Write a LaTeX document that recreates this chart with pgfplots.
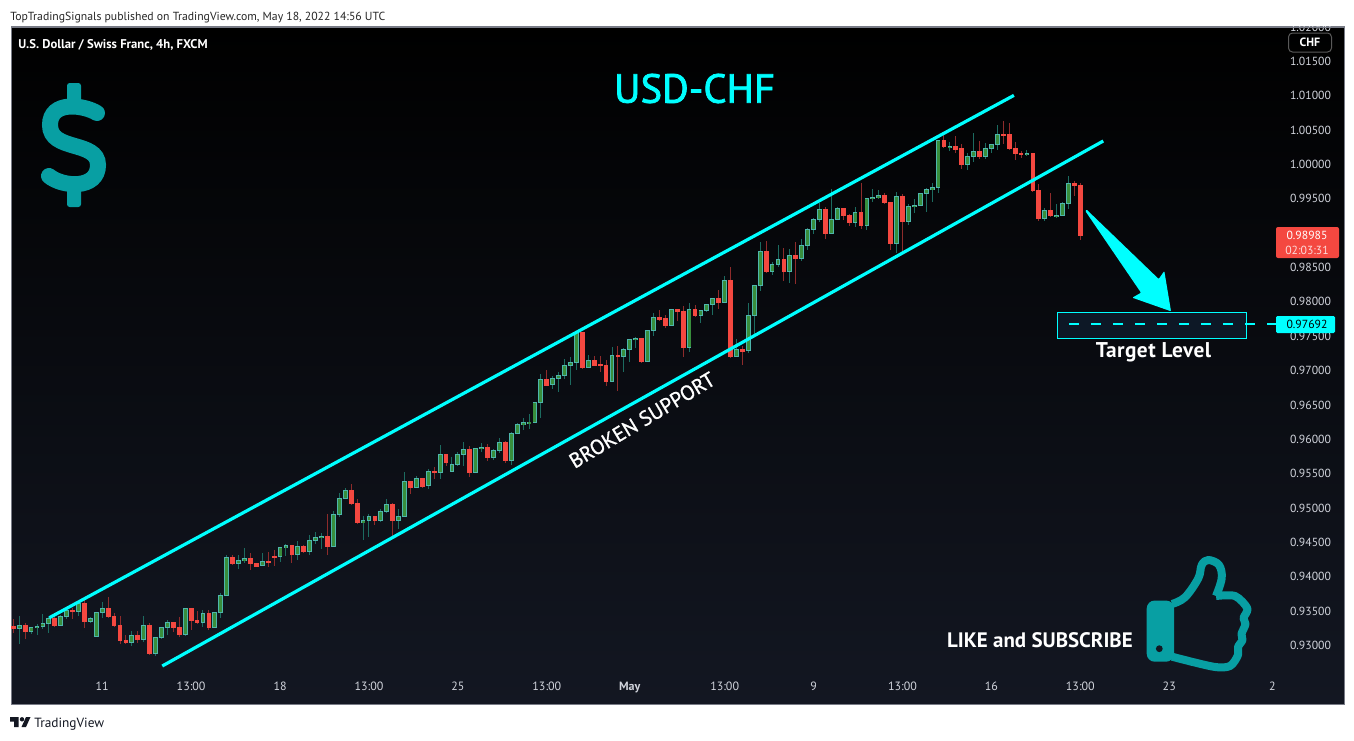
\documentclass[border=0pt]{standalone}
\usepackage{fontspec}
\setmainfont{PT Sans}
\usepackage{pgfplots}
\usepackage{pgfplotstable}
\pgfplotsset{compat=1.18}
\definecolor{tvbg}{HTML}{131722}
\definecolor{tvline}{HTML}{787B86}
\definecolor{gborder}{HTML}{4DB6AC}
\definecolor{gfill}{HTML}{388E3C}
\definecolor{gwick}{HTML}{1C6B60}
\definecolor{rfill}{HTML}{F44840}
\definecolor{rwick}{HTML}{8E2B2B}
\definecolor{tvcyan}{HTML}{00FFFF}
\definecolor{tick}{HTML}{D1D4DC}
\definecolor{iconteal}{HTML}{089FA3}
\definecolor{tgtbg}{HTML}{0D1826}
\pgfplotstableread{
i o h l c
1 0.93245 0.93429 0.93022 0.93299
3 0.93202 0.93274 0.93173 0.93265
4 0.93255 0.93308 0.93153 0.93284
5 0.93274 0.93459 0.93240 0.93323
6 0.93318 0.93420 0.93182 0.93395
8 0.93289 0.93444 0.93284 0.93429
9 0.93420 0.93541 0.93391 0.93517
11 0.93492 0.93652 0.93434 0.93618
13 0.93347 0.93420 0.93323 0.93395
14 0.93129 0.93492 0.93124 0.93483
15 0.93478 0.93638 0.93405 0.93541
20 0.93042 0.93211 0.92998 0.93148
22 0.93085 0.93429 0.93056 0.93294
24 0.92882 0.93129 0.92853 0.93119
25 0.93114 0.93274 0.93100 0.93265
26 0.93265 0.93371 0.93153 0.93337
29 0.93158 0.93546 0.93143 0.93541
32 0.93332 0.93517 0.93274 0.93468
34 0.93260 0.93492 0.93255 0.93483
35 0.93478 0.93769 0.93400 0.93730
36 0.93730 0.94316 0.93725 0.94282
38 0.94190 0.94316 0.94118 0.94239
39 0.94234 0.94413 0.94200 0.94268
42 0.94161 0.94341 0.94152 0.94224
45 0.94292 0.94438 0.94219 0.94423
46 0.94423 0.94476 0.94302 0.94457
48 0.94321 0.94520 0.94244 0.94442
50 0.94365 0.94607 0.94316 0.94529
51 0.94525 0.94651 0.94481 0.94573
52 0.94568 0.94631 0.94403 0.94592
54 0.94437 0.94956 0.94432 0.94907
55 0.94903 0.95218 0.94874 0.95145
56 0.95135 0.95286 0.95130 0.95256
59 0.94786 0.94883 0.94534 0.94820
60 0.94815 0.94907 0.94578 0.94878
62 0.94815 0.94985 0.94796 0.94951
63 0.94946 0.95130 0.94922 0.95053
65 0.94815 0.94985 0.94694 0.94878
66 0.94874 0.95523 0.94869 0.95387
68 0.95295 0.95460 0.95286 0.95431
70 0.95324 0.95567 0.95276 0.95533
72 0.95513 0.95916 0.95421 0.95780
74 0.95528 0.95741 0.95523 0.95635
75 0.95630 0.95814 0.95605 0.95780
76 0.95775 0.95959 0.95610 0.95853
78 0.95513 0.95877 0.95508 0.95867
79 0.95862 0.95950 0.95814 0.95887
81 0.95731 0.95857 0.95702 0.95838
82 0.95833 0.96017 0.95804 0.95954
84 0.95688 0.96114 0.95625 0.96085
85 0.96080 0.96245 0.96076 0.96216
86 0.96211 0.96308 0.96134 0.96245
87 0.96240 0.96376 0.96148 0.96250
88 0.96240 0.96546 0.96236 0.96536
89 0.96532 0.96949 0.96309 0.96871
91 0.96794 0.96920 0.96731 0.96886
92 0.96881 0.96978 0.96692 0.96929
93 0.96924 0.97167 0.96881 0.97075
94 0.97070 0.97191 0.96789 0.97118
95 0.97114 0.97564 0.97007 0.97559
97 0.97041 0.97225 0.97036 0.97147
101 0.96837 0.97341 0.96832 0.97220
103 0.97201 0.97322 0.96983 0.97307
104 0.97307 0.97467 0.97123 0.97453
105 0.97448 0.97496 0.97327 0.97467
107 0.97128 0.97598 0.97123 0.97584
108 0.97579 0.97836 0.97501 0.97773
111 0.97652 0.97899 0.97647 0.97889
114 0.97332 0.97981 0.97269 0.97889
116 0.97797 0.97889 0.97690 0.97875
117 0.97870 0.97971 0.97855 0.97962
118 0.97957 0.98059 0.97807 0.98049
120 0.97986 0.98379 0.97981 0.98311
122 0.97201 0.97467 0.97191 0.97307
124 0.97288 0.97986 0.97254 0.97802
125 0.97797 0.98253 0.97516 0.98238
126 0.98233 0.98868 0.98160 0.98732
128 0.98437 0.98587 0.98388 0.98543
129 0.98538 0.98824 0.98509 0.98616
131 0.98437 0.98776 0.98272 0.98674
133 0.98626 0.98912 0.98597 0.98820
134 0.98815 0.99072 0.98752 0.99052
135 0.99047 0.99227 0.98984 0.99198
136 0.99193 0.99445 0.99164 0.99343
138 0.98989 0.99639 0.98984 0.99198
139 0.99193 0.99387 0.99188 0.99358
142 0.99149 0.99377 0.99086 0.99299
144 0.99106 0.99518 0.99043 0.99503
145 0.99498 0.99639 0.99455 0.99518
146 0.99513 0.99624 0.99503 0.99547
149 0.98844 0.99605 0.98708 0.99532
151 0.99164 0.99430 0.99120 0.99387
152 0.99382 0.99503 0.99295 0.99401
153 0.99396 0.99586 0.99392 0.99576
154 0.99571 0.99663 0.99309 0.99634
155 0.99629 0.99736 0.99455 0.99663
156 0.99658 1.00351 0.99586 1.00347
158 1.00250 1.00327 1.00196 1.00264
161 0.99993 1.00162 0.99915 1.00114
162 1.00109 1.00453 1.00036 1.00187
164 1.00109 1.00313 1.00080 1.00230
165 1.00225 1.00303 1.00162 1.00288
166 1.00283 1.00569 1.00206 1.00434
171 1.00138 1.00216 1.00128 1.00157
174 0.99207 0.99372 0.99174 0.99329
176 0.99251 0.99421 0.99217 0.99261
177 0.99251 0.99455 0.99246 0.99430
178 0.99426 0.99828 0.99348 0.99721
}\greentab
\pgfplotstableread{
i o h l c
0 0.93284 0.93386 0.93187 0.93240
2 0.93299 0.93323 0.93095 0.93202
7 0.93400 0.93410 0.93284 0.93289
10 0.93517 0.93541 0.93391 0.93488
12 0.93618 0.93711 0.93260 0.93347
16 0.93546 0.93706 0.93400 0.93415
17 0.93429 0.93468 0.93274 0.93289
18 0.93299 0.93429 0.93022 0.93071
19 0.93080 0.93153 0.93037 0.93042
21 0.93153 0.93211 0.93042 0.93085
23 0.93299 0.93323 0.92877 0.92882
27 0.93342 0.93347 0.93197 0.93260
28 0.93265 0.93420 0.93129 0.93153
30 0.93541 0.93546 0.93226 0.93362
31 0.93371 0.93507 0.93323 0.93328
33 0.93468 0.93517 0.93231 0.93260
37 0.94282 0.94316 0.94186 0.94190
40 0.94268 0.94341 0.94103 0.94190
41 0.94195 0.94205 0.94142 0.94156
43 0.94224 0.94360 0.94142 0.94205
44 0.94302 0.94389 0.94156 0.94287
47 0.94457 0.94462 0.94200 0.94321
49 0.94447 0.94457 0.94355 0.94360
53 0.94592 0.94912 0.94316 0.94437
57 0.95256 0.95349 0.95043 0.95063
58 0.95072 0.95130 0.94781 0.94786
61 0.94883 0.94888 0.94752 0.94815
64 0.95058 0.95072 0.94558 0.94815
67 0.95387 0.95392 0.95203 0.95295
69 0.95431 0.95436 0.95295 0.95319
71 0.95538 0.95596 0.95421 0.95513
73 0.95780 0.95794 0.95610 0.95659
77 0.95853 0.95901 0.95450 0.95513
80 0.95882 0.95930 0.95683 0.95731
83 0.95954 0.95969 0.95654 0.95688
90 0.96871 0.97007 0.96779 0.96789
96 0.97559 0.97564 0.97036 0.97041
98 0.97152 0.97210 0.97070 0.97080
99 0.97094 0.97210 0.96978 0.97065
100 0.97080 0.97152 0.96779 0.96837
102 0.97225 0.97356 0.96706 0.97201
106 0.97472 0.97477 0.97123 0.97128
109 0.97773 0.97879 0.97715 0.97748
110 0.97758 0.97807 0.97622 0.97652
112 0.97889 0.97899 0.97719 0.97855
113 0.97860 0.97938 0.97196 0.97332
115 0.97889 0.97962 0.97787 0.97797
119 0.98049 0.98170 0.97894 0.97986
121 0.98311 0.98505 0.97196 0.97201
123 0.97307 0.97356 0.97080 0.97283
127 0.98732 0.98883 0.98432 0.98437
130 0.98616 0.98790 0.98301 0.98437
132 0.98674 0.98868 0.98262 0.98626
137 0.99343 0.99377 0.98912 0.98989
140 0.99358 0.99367 0.99198 0.99251
141 0.99261 0.99285 0.99101 0.99149
143 0.99299 0.99736 0.99057 0.99106
147 0.99547 0.99581 0.99435 0.99440
148 0.99450 0.99455 0.98752 0.98844
150 0.99537 0.99566 0.98728 0.99164
157 1.00347 1.00473 1.00250 1.00254
159 1.00264 1.00410 1.00162 1.00220
160 1.00230 1.00293 0.99930 0.99993
163 1.00187 1.00337 1.00075 1.00109
167 1.00439 1.00628 1.00303 1.00424
168 1.00434 1.00599 1.00220 1.00225
169 1.00230 1.00322 1.00061 1.00153
170 1.00157 1.00201 1.00090 1.00138
172 1.00157 1.00162 0.99610 0.99615
173 0.99619 0.99721 0.99174 0.99207
175 0.99329 0.99581 0.99237 0.99251
179 0.99721 0.99755 0.99537 0.99687
180 0.99692 0.99736 0.98902 0.98960
}\redtab
\newcommand{\wicks}[2]{\addplot[draw=none,no markers,forget plot,error bars/.cd,y dir=both,y explicit,error mark=none,error bar style={solid,line width=0.75pt,color=#2}] table[x=i,y=c,y error plus expr={\thisrow{h}-\thisrow{c}},y error minus expr={\thisrow{c}-\thisrow{l}}] {#1};}
\newcommand{\bodies}[4]{\addplot[draw=none,no markers,forget plot,error bars/.cd,y dir=both,y explicit,error mark=none,error bar style={solid,line width=#3,color=#2}] table[x=i,y expr={(\thisrow{o}+\thisrow{c})/2},y error expr={max(abs(\thisrow{o}-\thisrow{c})/2+(#4),0.00002)}] {#1};}
\begin{document}
\begin{tikzpicture}[x=0.75pt,y=-0.75pt]
\path[use as bounding box,fill=white] (0,0) rectangle (1354,740);
\begin{axis}[
  at={(8.25pt,-528pt)},anchor=south west,
  scale only axis,width=999.75pt,height=507.75pt,
  xmin=-0.388,xmax=224.48,ymin=0.92149,ymax=1.0200,
  axis background/.style={top color=black,bottom color=tvbg},
  axis line style={draw=tvline,line width=0.75pt},
  major tick length=0pt,
  xtick={15,30,45,60,75,90,104,120,135,150,165,180,195,212.4},
  xticklabels={11,13:00,18,13:00,25,13:00,\textbf{May},13:00,9,13:00,16,13:00,23,2},
  ytick={0.93,0.935,0.94,0.945,0.95,0.955,0.96,0.965,0.97,0.975,0.98,0.985,0.995,1,1.005,1.01,1.015,1.02},
  yticklabel pos=right,
  y tick label style={anchor=west,xshift=-44pt,font=\fontsize{8.8pt}{11pt}\selectfont,text=tick,
    /pgf/number format/.cd,fixed,fixed zerofill,precision=5,assume math mode=true},
  x tick label style={anchor=base,yshift=10.5pt,font=\fontsize{9pt}{11pt}\selectfont,text=tick},
]
\wicks{\greentab}{gwick}
\wicks{\redtab}{rwick}
\bodies{\greentab}{gborder}{3.6pt}{0.00005}
\bodies{\greentab}{gfill}{2.2pt}{-0.0001}
\bodies{\redtab}{rfill}{3.6pt}{0.00005}
\addplot[tvcyan,line width=2.4pt,forget plot] coordinates {(6.07,0.93404) (168.8,1.01005)};
\addplot[tvcyan,line width=2.4pt,forget plot] coordinates {(25.13,0.92702) (183.87,1.00341)};
\end{axis}
% covering the part of the 1.02000 label above the pane
\fill[white] (0,0) rectangle (1354,26.4);
\draw[tvline,line width=0.75pt] (11,27) -- (1344,27);
\node[anchor=base west,inner sep=0pt,text=black!85] at (10,20) {\fontsize{8.8pt}{11pt}\selectfont TopTradingSignals published on TradingView.com, May 18, 2022 14:56 UTC};
\node[anchor=base west,inner sep=0pt,text=white] at (18,48) {\fontsize{9.5pt}{11pt}\selectfont\bfseries U.S. Dollar / Swiss Franc, 4h, FXCM};
\node[text=tvcyan,inner sep=0pt] at (694.5,88.5) {\fontsize{30.5pt}{32pt}\selectfont\addfontfeature{FakeBold=1.8} USD-CHF};
% dollar icon
\draw[iconteal,line width=12pt,line cap=round] (97,113) .. controls (84,105) and (50,100) .. (50,125) .. controls (50,152) and (98,140) .. (98,165) .. controls (98,190) and (62,187) .. (49,176);
\fill[iconteal,rounded corners=2pt] (67,83) rectangle (81,104);
\fill[iconteal,rounded corners=2pt] (67,186) rectangle (81,207);
% thumb icon
\fill[iconteal,rounded corners=6pt] (1146.7,600.5) -- (1174,600.5) -- (1174,661.7) -- (1146.7,661.7) -- cycle;
\fill[tvbg] (1159.3,648.7) circle (3.4);
\draw[iconteal,line width=6pt,line join=round] plot[smooth,tension=0.6] coordinates {(1172,604) (1185,597.3) (1198.3,578.3) (1201.7,565) (1208.3,560) (1219,565) (1221.7,578.3) (1216,596)};
\draw[iconteal,line width=6pt,line join=round] plot[smooth,tension=0.5] coordinates {(1216,596) (1235,596) (1247.3,608.3) (1243.5,618) (1245.5,624) (1241.5,634) (1242.5,640) (1238,647) (1238,655) (1230,666) (1213.3,666.7) (1172,656.7)};
% target level
\filldraw[fill=tgtbg,draw=tvcyan,line width=0.8pt] (1057.3,312.3) rectangle (1246.7,338.3);
\draw[tvcyan,line width=1.2pt,dash pattern=on 7.5pt off 9pt] (1069,324) -- (1276,324);
\fill[tvcyan,rounded corners=1pt] (1276,316) rectangle (1335,333);
\node[text=black,inner sep=0pt] at (1307,324.5) {\fontsize{8.8pt}{11pt}\selectfont 0.97692};
\node[text=white,inner sep=0pt] at (1153.5,352.5) {\fontsize{16pt}{18pt}\selectfont\bfseries\addfontfeature{LetterSpace=2} Target Level};
% arrow
\fill[tvcyan,rounded corners=0.6pt] (1086.5,209.5) -- (1158.7,279) -- (1164.3,271) -- (1171,311.3) -- (1132.3,297.7) -- (1141,292.7) -- (1085.3,211) -- cycle;
% last price
\fill[rfill,rounded corners=1.5pt] (1276,227) rectangle (1339,258);
\node[text=white,inner sep=0pt] at (1307,235.5) {\fontsize{8.8pt}{10pt}\selectfont 0.98985};
\node[text=white!80!rfill,inner sep=0pt] at (1307,250) {\fontsize{8.8pt}{10pt}\selectfont 02:03:31};
% currency box
\draw[black!65!white,line width=0.75pt,rounded corners=3pt] (1288.5,33) rectangle (1331.5,52);
\node[text=white,inner sep=0pt] at (1310,42.5) {\fontsize{9pt}{11pt}\selectfont\bfseries CHF};
% annotations
\node[text=white,inner sep=0pt,rotate=31] at (642,420) {\fontsize{15.6pt}{17pt}\selectfont\addfontfeature{FakeBold=1} BROKEN SUPPORT};
\node[text=white,inner sep=0pt] at (1040,640) {\fontsize{15.7pt}{18pt}\selectfont\bfseries LIKE and SUBSCRIBE};
% footer
\fill[tvbg] (10,717) -- (18.5,717) -- (18.5,727) -- (14,727) -- (14,721.5) -- (10,721.5) -- cycle;
\fill[tvbg] (22,719.3) circle (2.2);
\fill[tvbg] (26,717) -- (30.5,717) -- (26,727) -- (21.5,727) -- cycle;
\node[anchor=base west,inner sep=0pt,text=tvbg] at (34,727) {\fontsize{10pt}{12pt}\selectfont TradingView};
\end{tikzpicture}
\end{document}
